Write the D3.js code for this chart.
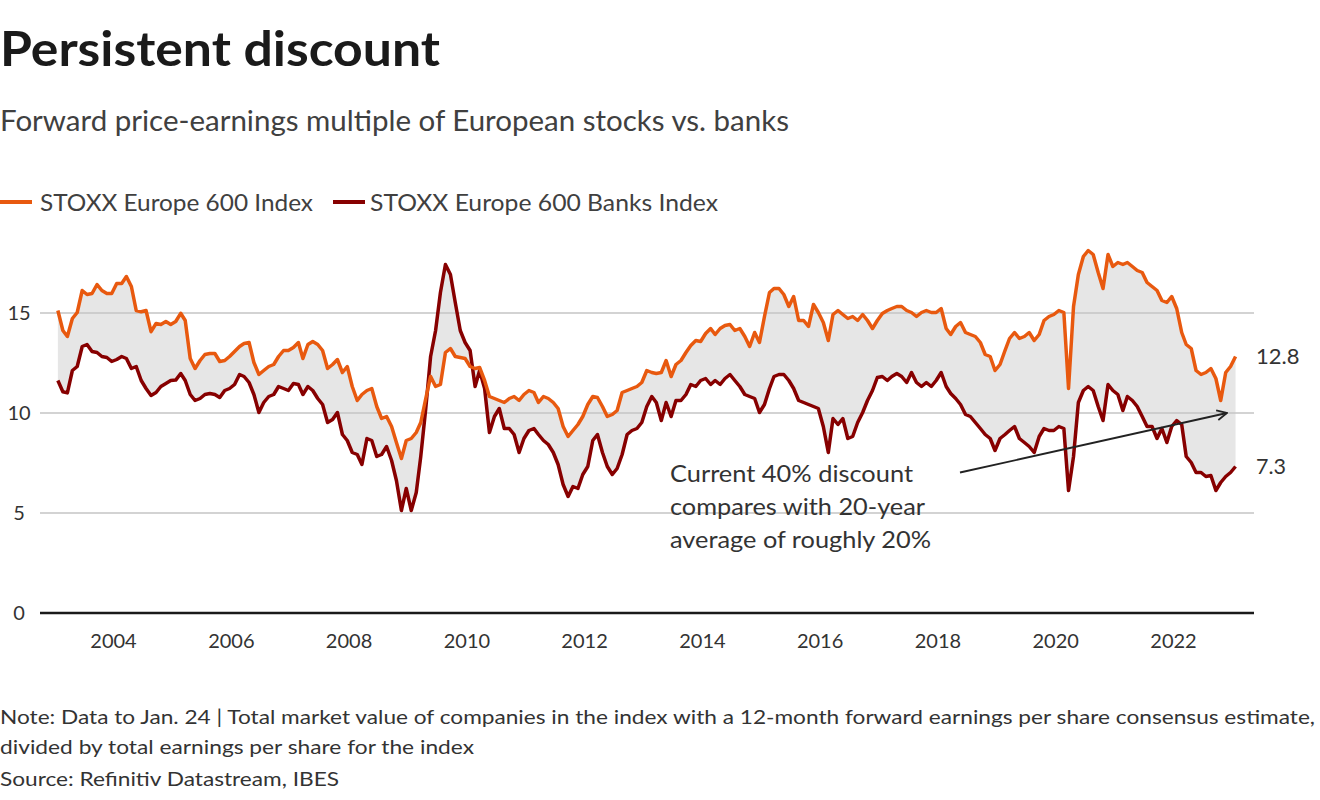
<!DOCTYPE html>
<html>
<head>
<meta charset="utf-8">
<script src="https://cdn.jsdelivr.net/npm/d3@7"></script>
<style>
  html, body { margin: 0; padding: 0; background: #fff; }
  svg { display: block; font-family: Lato, "Noto Sans", sans-serif; }
</style>
</head>
<body>
<svg id="chart" width="1320" height="800"></svg>
<script>
// ---------------- DATA ----------------
const dates = [
"2003-01-24","2003-02-24","2003-03-24","2003-04-24","2003-05-24","2003-06-24","2003-07-24","2003-08-24","2003-09-24","2003-10-24","2003-11-24","2003-12-24",
"2004-01-24","2004-02-24","2004-03-24","2004-04-24","2004-05-24","2004-06-24","2004-07-24","2004-08-24","2004-09-24","2004-10-24","2004-11-24","2004-12-24",
"2005-01-24","2005-02-24","2005-03-24","2005-04-24","2005-05-24","2005-06-24","2005-07-24","2005-08-24","2005-09-24","2005-10-24","2005-11-24","2005-12-24",
"2006-01-24","2006-02-24","2006-03-24","2006-04-24","2006-05-24","2006-06-24","2006-07-24","2006-08-24","2006-09-24","2006-10-24","2006-11-24","2006-12-24",
"2007-01-24","2007-02-24","2007-03-24","2007-04-24","2007-05-24","2007-06-24","2007-07-24","2007-08-24","2007-09-24","2007-10-24","2007-11-24","2007-12-24",
"2008-01-24","2008-02-24","2008-03-24","2008-04-24","2008-05-24","2008-06-24","2008-07-24","2008-08-24","2008-09-24","2008-10-24","2008-11-24","2008-12-24",
"2009-01-24","2009-02-24","2009-03-24","2009-04-24","2009-05-24","2009-06-24","2009-07-24","2009-08-24","2009-09-24","2009-10-24","2009-11-24","2009-12-24",
"2010-01-24","2010-02-24","2010-03-24","2010-04-24","2010-05-24","2010-06-24","2010-07-24","2010-08-24","2010-09-24","2010-10-24","2010-11-24","2010-12-24",
"2011-01-24","2011-02-24","2011-03-24","2011-04-24","2011-05-24","2011-06-24","2011-07-24","2011-08-24","2011-09-24","2011-10-24","2011-11-24","2011-12-24",
"2012-01-24","2012-02-24","2012-03-24","2012-04-24","2012-05-24","2012-06-24","2012-07-24","2012-08-24","2012-09-24","2012-10-24","2012-11-24","2012-12-24",
"2013-01-24","2013-02-24","2013-03-24","2013-04-24","2013-05-24","2013-06-24","2013-07-24","2013-08-24","2013-09-24","2013-10-24","2013-11-24","2013-12-24",
"2014-01-24","2014-02-24","2014-03-24","2014-04-24","2014-05-24","2014-06-24","2014-07-24","2014-08-24","2014-09-24","2014-10-24","2014-11-24","2014-12-24",
"2015-01-24","2015-02-24","2015-03-24","2015-04-24","2015-05-24","2015-06-24","2015-07-24","2015-08-24","2015-09-24","2015-10-24","2015-11-24","2015-12-24",
"2016-01-24","2016-02-24","2016-03-24","2016-04-24","2016-05-24","2016-06-24","2016-07-24","2016-08-24","2016-09-24","2016-10-24","2016-11-24","2016-12-24",
"2017-01-24","2017-02-24","2017-03-24","2017-04-24","2017-05-24","2017-06-24","2017-07-24","2017-08-24","2017-09-24","2017-10-24","2017-11-24","2017-12-24",
"2018-01-24","2018-02-24","2018-03-24","2018-04-24","2018-05-24","2018-06-24","2018-07-24","2018-08-24","2018-09-24","2018-10-24","2018-11-24","2018-12-24",
"2019-01-24","2019-02-24","2019-03-24","2019-04-24","2019-05-24","2019-06-24","2019-07-24","2019-08-24","2019-09-24","2019-10-24","2019-11-24","2019-12-24",
"2020-01-24","2020-02-24","2020-03-24","2020-04-24","2020-05-24","2020-06-24","2020-07-24","2020-08-24","2020-09-24","2020-10-24","2020-11-24","2020-12-24",
"2021-01-24","2021-02-24","2021-03-24","2021-04-24","2021-05-24","2021-06-24","2021-07-24","2021-08-24","2021-09-24","2021-10-24","2021-11-24","2021-12-24",
"2022-01-24","2022-02-24","2022-03-24","2022-04-24","2022-05-24","2022-06-24","2022-07-24","2022-08-24","2022-09-24","2022-10-24","2022-11-24","2022-12-24",
"2023-01-24"
];

const stoxx600 = [
15.1,14.1,13.8,14.7,15.0,16.1,15.9,15.95,16.4,16.1,15.95,15.95,
16.45,16.45,16.8,16.3,15.1,15.04,15.1,14.04,14.45,14.4,14.55,14.4,
14.55,14.96,14.6,12.7,12.2,12.6,12.9,12.95,12.95,12.55,12.6,12.8,
13.05,13.3,13.45,13.5,12.5,11.9,12.1,12.3,12.4,12.8,13.1,13.1,
13.25,13.5,12.7,13.4,13.55,13.4,13.1,12.2,12.4,12.65,12.0,12.3,
11.3,10.6,10.9,11.1,11.2,10.3,9.7,9.8,9.3,8.5,7.7,8.6,
8.7,9.0,9.5,10.7,11.8,11.3,11.4,13.0,13.2,12.8,12.75,12.7,
12.3,12.2,12.25,11.6,10.8,10.7,10.6,10.5,10.7,10.8,10.6,10.9,
11.1,11.0,10.5,10.8,10.7,10.5,10.2,9.3,8.8,9.1,9.4,9.8,
10.4,10.8,10.75,10.3,9.8,9.9,10.1,11.0,11.1,11.2,11.3,11.5,
12.1,12.0,11.95,12.0,12.6,11.8,12.4,12.6,13.0,13.35,13.6,13.55,
13.95,14.2,13.9,14.2,14.35,14.4,14.1,14.2,13.8,13.3,14.0,13.5,
14.8,16.0,16.2,16.2,15.9,15.3,15.8,14.6,14.6,14.3,15.4,15.0,
14.5,13.6,14.9,15.1,14.9,14.7,14.8,14.6,14.9,14.6,14.2,14.6,
14.95,15.1,15.2,15.3,15.3,15.1,15.0,14.8,15.0,15.1,15.0,15.0,
15.2,14.2,13.9,14.3,14.5,14.0,13.9,13.8,13.5,12.9,12.8,12.1,
12.4,13.1,13.7,14.0,13.7,13.8,14.0,13.6,13.9,14.6,14.8,14.9,
15.1,15.0,11.2,15.3,16.9,17.8,18.1,17.9,17.0,16.2,17.9,17.3,
17.5,17.4,17.5,17.3,17.1,17.0,16.5,16.3,16.1,15.6,15.5,15.8,
15.2,14.0,13.4,13.2,12.1,11.9,12.0,12.2,11.7,10.6,12.0,12.3,
12.8
];

const banks600 = [
11.6,11.04,10.98,12.1,12.3,13.3,13.4,13.05,13.0,12.8,12.75,12.55,
12.65,12.8,12.7,12.2,12.3,11.6,11.2,10.85,11.0,11.3,11.45,11.6,
11.62,11.95,11.6,10.9,10.6,10.7,10.9,10.95,10.9,10.75,11.1,11.2,
11.4,11.9,11.8,11.5,10.9,10.0,10.5,10.8,10.9,11.3,11.2,11.1,
11.45,11.4,10.9,11.3,11.1,10.7,10.4,9.5,9.65,10.0,8.9,8.6,
8.0,7.9,7.4,8.7,8.6,7.8,7.9,8.3,7.6,6.6,5.1,6.2,
5.1,6.0,7.8,10.2,12.8,14.1,16.0,17.4,16.9,15.5,14.1,13.5,
13.1,11.3,12.1,11.2,9.0,9.8,10.2,9.2,9.2,8.9,8.0,8.7,
9.1,9.2,8.9,8.6,8.4,8.0,7.4,6.4,5.8,6.3,6.2,6.9,
7.3,8.6,8.9,8.0,7.3,6.9,7.2,7.9,8.9,9.1,9.2,9.5,
10.3,10.8,10.5,9.6,10.5,9.8,10.6,10.6,10.9,11.4,11.3,11.6,
11.7,11.4,11.6,11.4,11.7,11.9,11.6,11.3,10.9,10.8,10.7,10.0,
10.4,11.2,11.8,11.9,11.9,11.6,11.2,10.6,10.5,10.4,10.3,10.2,
9.3,8.0,9.7,9.4,9.7,8.7,8.8,9.5,10.0,10.6,11.1,11.75,
11.8,11.6,11.8,11.95,11.8,11.5,12.0,11.5,11.3,11.5,11.3,11.6,
12.0,11.3,10.95,10.7,10.4,9.9,9.8,9.5,9.2,8.9,8.7,8.1,
8.7,8.9,9.1,9.3,8.7,8.5,8.3,8.0,8.8,9.2,9.1,9.1,
9.3,9.2,6.1,7.8,10.5,11.1,11.3,11.1,10.3,9.6,11.4,11.1,
10.9,10.1,10.8,10.6,10.3,9.8,9.3,9.3,8.7,9.2,8.5,9.3,
9.6,9.4,7.8,7.5,7.0,7.0,6.8,6.85,6.1,6.5,6.8,7.0,
7.3
];

const yTicks = [0, 5, 10, 15];
const xTickYears = [2004, 2006, 2008, 2010, 2012, 2014, 2016, 2018, 2020, 2022];
const seriesNames = ["STOXX Europe 600 Index", "STOXX Europe 600 Banks Index"];
const seriesColors = ["#e8590f", "#870000"];
const titleText = "Persistent discount";
const subtitleText = "Forward price-earnings multiple of European stocks vs. banks";
const annotationLines = ["Current 40% discount", "compares with 20-year", "average of roughly 20%"];
const noteLines = [
  "Note: Data to Jan. 24 | Total market value of companies in the index with a 12-month forward earnings per share consensus estimate,",
  "divided by total earnings per share for the index"
];
const sourceText = "Source: Refinitiv Datastream, IBES";

// ---------------- CHART ----------------
const svg = d3.select("#chart");
const parse = d3.timeParse("%Y-%m-%d");
const data = dates.map((d, i) => ({ date: parse(d), a: stoxx600[i], b: banks600[i] }));

const x = d3.scaleTime()
  .domain([parse("2004-01-01"), parse("2022-01-01")])
  .range([113, 1173]);
const y = d3.scaleLinear().domain([0, 15]).range([612.5, 312.5]);

const gridLeft = 40, gridRight = 1254;

function fit(sel, w) {
  sel.each(function () {
    const len = this.getComputedTextLength();
    if (Math.abs(len - w) / w > 0.015) {
      d3.select(this).attr("textLength", w).attr("lengthAdjust", "spacingAndGlyphs");
    }
  });
  return sel;
}

// Title / subtitle
svg.append("text").attr("x", 0).attr("y", 66)
  .attr("font-size", 48).attr("font-weight", 700).attr("fill", "#1a1a1a")
  .text(titleText).call(fit, 440);
svg.append("text").attr("x", 0).attr("y", 131)
  .attr("font-size", 28).attr("fill", "#404040")
  .text(subtitleText).call(fit, 789);

// Legend
const legendItems = [
  { x0: 0, x1: 32, tx: 40, w: 273 },
  { x0: 333, x1: 365, tx: 370, w: 348 }
];
legendItems.forEach((l, i) => {
  svg.append("line").attr("x1", l.x0).attr("x2", l.x1).attr("y1", 202).attr("y2", 202)
    .attr("stroke", seriesColors[i]).attr("stroke-width", 4);
  svg.append("text").attr("x", l.tx).attr("y", 211)
    .attr("font-size", 24).attr("fill", "#404040")
    .text(seriesNames[i]).call(fit, l.w);
});

// Fill between series
const area = d3.area()
  .x(d => x(d.date))
  .y0(d => y(d.b))
  .y1(d => y(d.a));
svg.append("path").datum(data).attr("d", area).attr("fill", "#e6e6e6");

// Grid lines
const yAxis = d3.axisLeft(y).tickValues(yTicks).tickSize(-(gridRight - gridLeft)).tickFormat(d3.format("d"));
const gy = svg.append("g").attr("transform", `translate(${gridLeft},0)`).call(yAxis);
gy.select(".domain").remove();
gy.selectAll(".tick line")
  .attr("stroke", d => d === 0 ? "#1a1a1a" : "#c4c4c4")
  .attr("stroke-width", d => d === 0 ? 2.5 : 1.6);
gy.selectAll(".tick text")
  .attr("x", 19 - gridLeft).attr("text-anchor", "middle").attr("dy", "0.36em")
  .attr("font-size", 20).attr("font-family", "Lato, sans-serif").attr("fill", "#333");

// X axis labels
const xAxis = d3.axisBottom(x)
  .tickValues(xTickYears.map(yr => new Date(yr, 0, 1)))
  .tickFormat(d3.timeFormat("%Y")).tickSize(0);
const gx = svg.append("g").attr("transform", "translate(0,612.5)").call(xAxis);
gx.select(".domain").remove();
gx.selectAll(".tick text").attr("y", 0).attr("dy", 35)
  .attr("font-size", 20).attr("font-family", "Lato, sans-serif").attr("fill", "#333");

// Lines
const lineA = d3.line().x(d => x(d.date)).y(d => y(d.a)).curve(d3.curveLinear);
const lineB = d3.line().x(d => x(d.date)).y(d => y(d.b)).curve(d3.curveLinear);
svg.append("path").datum(data).attr("d", lineB).attr("fill", "none")
  .attr("stroke", seriesColors[1]).attr("stroke-width", 3.5).attr("stroke-linejoin", "round");
svg.append("path").datum(data).attr("d", lineA).attr("fill", "none")
  .attr("stroke", seriesColors[0]).attr("stroke-width", 3.5).attr("stroke-linejoin", "round");

// End labels
const last = data[data.length - 1];
svg.append("text").attr("x", 1256).attr("y", y(last.a)).attr("dy", "0.36em")
  .attr("font-size", 22).attr("fill", "#333").text(d3.format(".1f")(last.a)).call(fit, 44);
svg.append("text").attr("x", 1256).attr("y", y(last.b)).attr("dy", "0.36em")
  .attr("font-size", 22).attr("fill", "#333").text(d3.format(".1f")(last.b)).call(fit, 30);

// Annotation
const annW = [243, 255, 261];
annotationLines.forEach((t, i) => {
  svg.append("text").attr("x", 670).attr("y", 482 + i * 33)
    .attr("font-size", 24).attr("fill", "#333").text(t).call(fit, annW[i]);
});
svg.append("defs").append("marker").attr("id", "arr")
  .attr("viewBox", "0 0 12 12").attr("refX", 11).attr("refY", 6)
  .attr("markerWidth", 12).attr("markerHeight", 12).attr("markerUnits", "userSpaceOnUse")
  .attr("orient", "auto")
  .append("path").attr("d", "M1,1 L11,6 L1,11").attr("fill", "none")
  .attr("stroke", "#222").attr("stroke-width", 1.8);
svg.append("line").attr("x1", 960).attr("y1", 472.5).attr("x2", 1227).attr("y2", 413)
  .attr("stroke", "#222").attr("stroke-width", 1.8).attr("marker-end", "url(#arr)");

// Notes
const noteW = [1315, 474];
noteLines.forEach((t, i) => {
  svg.append("text").attr("x", 0).attr("y", 724 + i * 30)
    .attr("font-size", 19).attr("fill", "#333").text(t).call(fit, noteW[i]);
});
svg.append("text").attr("x", 0).attr("y", 786)
  .attr("font-size", 19).attr("fill", "#333").text(sourceText).call(fit, 339);
</script>
</body>
</html>
